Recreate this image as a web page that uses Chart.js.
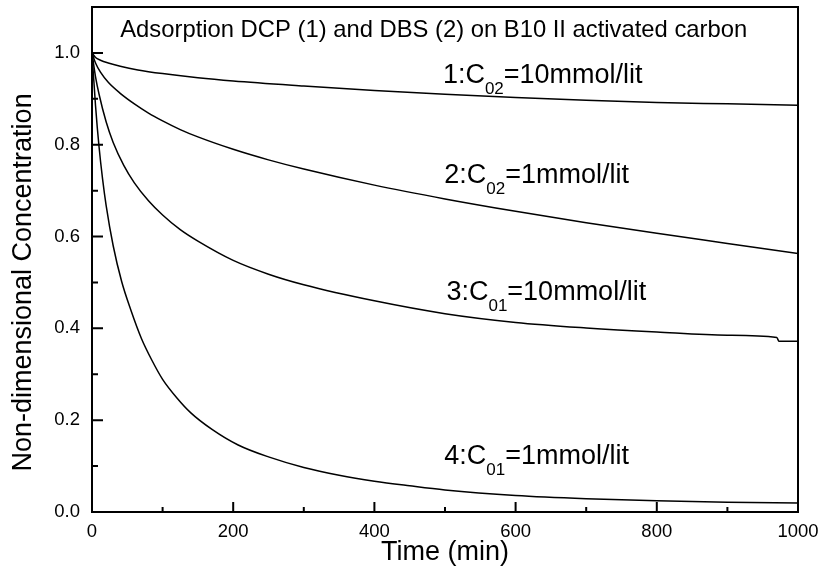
<!DOCTYPE html>
<html>
<head>
<meta charset="utf-8">
<script src="https://cdn.jsdelivr.net/npm/chart.js@4/dist/chart.umd.min.js"></script>
<style>body{margin:0;background:#fff}</style>
</head>
<body>
<canvas id="chart" width="823" height="572"></canvas>
<script>
// curve 1: C02 = 10 mmol/lit
var t1 = [0, 5, 12, 23, 40, 65, 100, 150, 200, 300, 400, 500, 600, 700, 800, 900, 1000];
var c1 = [1.0, 0.99, 0.984, 0.978, 0.971, 0.963, 0.955, 0.946, 0.939, 0.928, 0.918, 0.91, 0.903, 0.897, 0.892, 0.889, 0.886];
// curve 2: C02 = 1 mmol/lit
var t2 = [0, 5, 12, 23, 40, 60, 80, 100, 125, 150, 200, 250, 300, 400, 500, 600, 700, 800, 900, 1000];
var c2 = [1.0, 0.978, 0.958, 0.936, 0.912, 0.889, 0.869, 0.852, 0.833, 0.817, 0.79, 0.767, 0.747, 0.712, 0.682, 0.655, 0.63, 0.607, 0.585, 0.563];
// curve 3: C01 = 10 mmol/lit
var t3 = [0, 5, 10, 20, 30, 45, 60, 80, 100, 125, 150, 200, 250, 300, 400, 500, 600, 700, 800, 900, 970, 973, 1000];
var c3 = [1.0, 0.948, 0.91, 0.85, 0.805, 0.755, 0.717, 0.678, 0.647, 0.615, 0.59, 0.548, 0.518, 0.495, 0.46, 0.432, 0.413, 0.401, 0.392, 0.385, 0.38, 0.372, 0.372];
// curve 4: C01 = 1 mmol/lit
var t4 = [0, 5, 10, 15, 20, 30, 42, 55, 70, 85, 100, 120, 140, 170, 207, 250, 300, 350, 400, 450, 500, 600, 700, 800, 900, 1000];
var c4 = [1.0, 0.885, 0.795, 0.725, 0.668, 0.58, 0.502, 0.44, 0.378, 0.33, 0.289, 0.249, 0.216, 0.18, 0.146, 0.12, 0.097, 0.08, 0.067, 0.057, 0.048, 0.036, 0.029, 0.0245, 0.0215, 0.0195];

var xTicks = [0, 200, 400, 600, 800, 1000];
var xMinor = [100, 300, 500, 700, 900];
var yTicks = [0, 0.2, 0.4, 0.6, 0.8, 1.0];
var yMinor = [0.1, 0.3, 0.5, 0.7, 0.9];

var title = 'Adsorption DCP (1) and DBS (2) on B10 II activated carbon';
var yTitle = 'Non-dimensional Concentration';
var notes = [
    {pre: '1:C', sub: '02', post: '=10mmol/lit', x: 497, y: 0.934},
    {pre: '2:C', sub: '02', post: '=1mmol/lit', x: 499, y: 0.716},
    {pre: '3:C', sub: '01', post: '=10mmol/lit', x: 502, y: 0.462},
    {pre: '4:C', sub: '01', post: '=1mmol/lit', x: 499, y: 0.104}
];

var FONT = '"Liberation Sans", Arial, sans-serif';
Chart.defaults.font.family = FONT;
Chart.defaults.color = '#000';

function pts(t, c) {
    var out = [];
    for (var i = 0; i < t.length; i++) out.push({x: t[i], y: c[i]});
    return out;
}
function line(t, c) {
    return {
        data: pts(t, c),
        borderColor: '#000',
        borderWidth: 1.5,
        pointRadius: 0,
        fill: false,
        cubicInterpolationMode: 'monotone'
    };
}

// frame, inward ticks and the text inside the plot
var deco = {
    id: 'deco',
    afterDraw: function(chart) {
        var ctx = chart.ctx, a = chart.chartArea;
        var xs = chart.scales.x, ys = chart.scales.y;
        ctx.save();
        ctx.strokeStyle = '#000';
        ctx.lineWidth = 2;
        ctx.strokeRect(a.left, a.top, a.right - a.left, a.bottom - a.top);
        ctx.beginPath();
        xTicks.forEach(function(v) { var p = xs.getPixelForValue(v); ctx.moveTo(p, a.bottom); ctx.lineTo(p, a.bottom - 10); });
        xMinor.forEach(function(v) { var p = xs.getPixelForValue(v); ctx.moveTo(p, a.bottom); ctx.lineTo(p, a.bottom - 5); });
        yTicks.forEach(function(v) { var p = ys.getPixelForValue(v); ctx.moveTo(a.left, p); ctx.lineTo(a.left + 11, p); });
        yMinor.forEach(function(v) { var p = ys.getPixelForValue(v); ctx.moveTo(a.left, p); ctx.lineTo(a.left + 6, p); });
        ctx.stroke();

        ctx.fillStyle = '#000';
        ctx.textAlign = 'left';
        ctx.textBaseline = 'alphabetic';
        ctx.font = '23.8px ' + FONT;
        ctx.fillText(title, xs.getPixelForValue(40), ys.getPixelForValue(1.034));

        notes.forEach(function(n) {
            var x = xs.getPixelForValue(n.x), y = ys.getPixelForValue(n.y);
            ctx.font = '27px ' + FONT;
            ctx.fillText(n.pre, x, y);
            x += ctx.measureText(n.pre).width;
            ctx.font = '17px ' + FONT;
            ctx.fillText(n.sub, x, y + 11);
            x += ctx.measureText(n.sub).width;
            ctx.font = '27px ' + FONT;
            ctx.fillText(n.post, x, y);
        });

        // y axis title, sits a bit below the middle of the plot
        ctx.translate(24, ys.getPixelForValue(0.5));
        ctx.rotate(-Math.PI / 2);
        ctx.textAlign = 'center';
        ctx.textBaseline = 'middle';
        ctx.font = '27px ' + FONT;
        ctx.fillText(yTitle, 0, 0);
        ctx.restore();
    }
};

new Chart(document.getElementById('chart'), {
    type: 'line',
    data: {
        datasets: [line(t1, c1), line(t2, c2), line(t3, c3), line(t4, c4)]
    },
    options: {
        responsive: false,
        animation: false,
        layout: {padding: {top: 7, right: 25, left: 0, bottom: 0}},
        plugins: {legend: {display: false}, tooltip: {enabled: false}},
        scales: {
            x: {
                type: 'linear',
                min: 0,
                max: 1000,
                afterBuildTicks: function(s) { s.ticks = xTicks.map(function(v) { return {value: v}; }); },
                afterFit: function(s) { s.height = 60; s.paddingLeft = 0; s.paddingRight = 0; },
                grid: {display: false, drawTicks: false},
                border: {display: false},
                ticks: {font: {size: 18.5}, padding: 9, maxRotation: 0, autoSkip: false,
                        callback: function(v) { return String(v); }},
                title: {display: true, text: 'Time (min)', font: {size: 27}, padding: {top: 0, bottom: 3}}
            },
            y: {
                type: 'linear',
                min: 0,
                max: 1.1,
                afterBuildTicks: function(s) { s.ticks = yTicks.map(function(v) { return {value: v}; }); },
                afterFit: function(s) { s.width = 92; s.paddingTop = 0; s.paddingBottom = 0; },
                grid: {display: false, drawTicks: false},
                border: {display: false},
                ticks: {font: {size: 18.5}, padding: 12, callback: function(v) { return v.toFixed(1); }}
            }
        }
    },
    plugins: [deco]
});
</script>
</body>
</html>
